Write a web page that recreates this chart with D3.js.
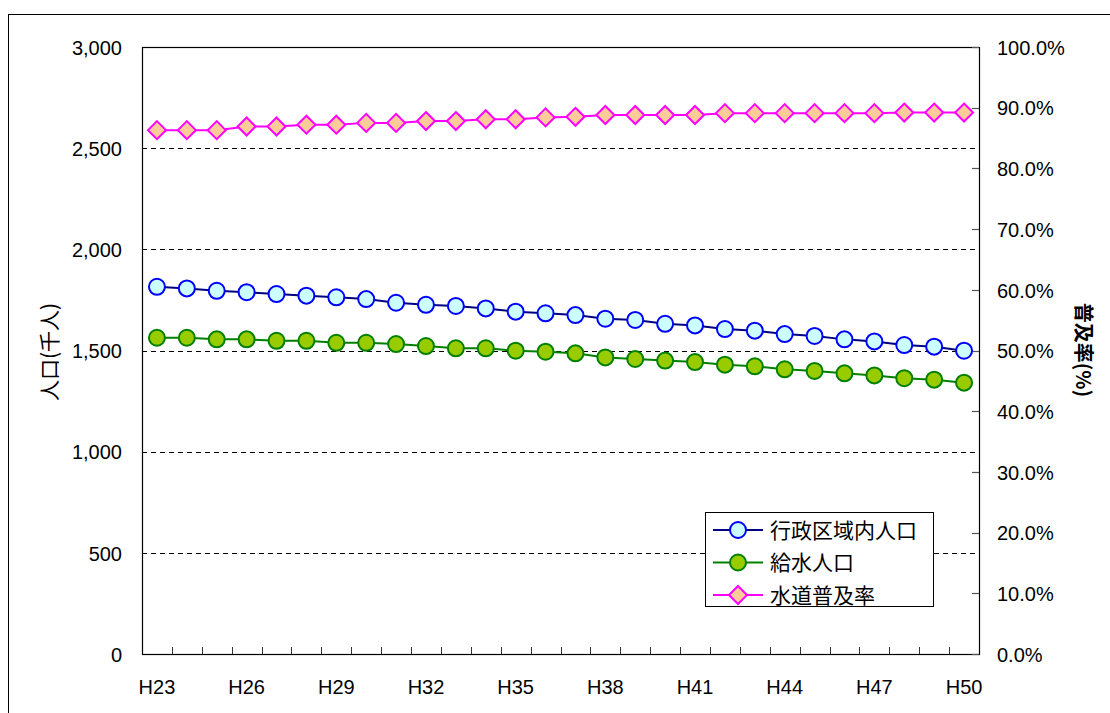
<!DOCTYPE html>
<html lang="ja">
<head>
<meta charset="utf-8">
<script src="https://cdn.jsdelivr.net/npm/d3@7"></script>
<style>
  html, body { margin: 0; padding: 0; background: #fff; }
  svg { display: block; }
  text { font-family: "Noto Sans CJK JP", "Noto Sans", sans-serif; fill: #000; }
  text.num { font-family: "Liberation Sans", Arial, sans-serif; }
</style>
</head>
<body>
<svg id="chart" width="1110" height="713"></svg>
<script>
// 年度（平成）
const years = ["H23","H24","H25","H26","H27","H28","H29","H30","H31","H32","H33","H34","H35","H36",
               "H37","H38","H39","H40","H41","H42","H43","H44","H45","H46","H47","H48","H49","H50"];
const tickYears = ["H23","H26","H29","H32","H35","H38","H41","H44","H47","H50"];

// 行政区域内人口（千人）
const adminPop = [1815,1807,1795,1788,1779,1771,1763,1754,1736,1726,1720,1708,1692,1684,
                  1675,1657,1651,1632,1624,1606,1598,1581,1572,1555,1545,1527,1519,1499];
// 給水人口（千人）
const servedPop = [1563,1563,1555,1555,1548,1548,1538,1538,1532,1522,1511,1511,1499,1494,
                   1486,1466,1458,1450,1443,1430,1422,1407,1399,1387,1377,1363,1356,1341];
// 水道普及率（%）
const coverage = [86.3,86.3,86.3,86.9,86.9,87.2,87.2,87.5,87.5,87.8,87.8,88.1,88.1,88.4,
                  88.5,88.8,88.8,88.8,88.8,89.1,89.1,89.1,89.1,89.1,89.1,89.2,89.2,89.2];

const popTicks = [0,500,1000,1500,2000,2500,3000];
const pctTicks = [0,10,20,30,40,50,60,70,80,90,100];

const svg = d3.select("#chart");
const plot = { left: 142, right: 979, top: 47, bottom: 654 };

// outer frame
svg.append("rect")
  .attr("x", 8.5).attr("y", 14.5).attr("width", 1200).attr("height", 800)
  .attr("fill", "none").attr("stroke", "#000").attr("stroke-width", 1);

const x = d3.scaleBand().domain(years).range([plot.left, plot.right]).padding(0);
const yL = d3.scaleLinear().domain([0, 3000]).range([plot.bottom, plot.top]);
const yR = d3.scaleLinear().domain([0, 100]).range([plot.bottom, plot.top]);
const cx = d => x(d) + x.bandwidth() / 2;

// gridlines
svg.append("g").selectAll("line")
  .data(popTicks.filter(v => v > 0 && v < 3000))
  .join("line")
  .attr("x1", plot.left).attr("x2", plot.right)
  .attr("y1", d => Math.round(yL(d)) + 0.5).attr("y2", d => Math.round(yL(d)) + 0.5)
  .attr("stroke", "#000").attr("stroke-width", 1).attr("stroke-dasharray", "5,4");

// plot frame
svg.append("rect")
  .attr("x", plot.left + 0.5).attr("y", plot.top + 0.5)
  .attr("width", plot.right - plot.left).attr("height", plot.bottom - plot.top)
  .attr("fill", "none").attr("stroke", "#000").attr("stroke-width", 1.2);

// left axis
const axisL = svg.append("g").attr("transform", `translate(${plot.left},0)`)
  .call(d3.axisLeft(yL).tickValues(popTicks).tickSize(0).tickPadding(20)
        .tickFormat(d3.format(",")));
axisL.select(".domain").remove();
axisL.selectAll("text").attr("class", "num").attr("font-size", 20).attr("dy", "0.36em").attr("x", -20);

// right axis
const axisR = svg.append("g").attr("transform", `translate(${plot.right},0)`)
  .call(d3.axisRight(yR).tickValues(pctTicks).tickSize(0).tickPadding(18)
        .tickFormat(d => d.toFixed(1) + "%"));
axisR.select(".domain").remove();
axisR.selectAll("text").attr("class", "num").attr("font-size", 20).attr("dy", "0.36em");
// inner ticks on right axis
svg.append("g").selectAll("line").data(pctTicks).join("line")
  .attr("x1", plot.right - 7).attr("x2", plot.right)
  .attr("y1", d => Math.round(yR(d)) + 0.5).attr("y2", d => Math.round(yR(d)) + 0.5)
  .attr("stroke", "#555").attr("stroke-width", 1.2);

// bottom axis: inner ticks at category boundaries, labels every 3 years
svg.append("g").selectAll("line").data(years.slice(1)).join("line")
  .attr("x1", d => Math.round(x(d)) + 0.5).attr("x2", d => Math.round(x(d)) + 0.5)
  .attr("y1", plot.bottom - 7).attr("y2", plot.bottom)
  .attr("stroke", "#333").attr("stroke-width", 1);
svg.append("g").selectAll("text").data(tickYears).join("text")
  .attr("class", "num")
  .attr("x", d => cx(d)).attr("y", plot.bottom + 40)
  .attr("text-anchor", "middle").attr("font-size", 20).text(d => d);

// axis titles
svg.append("text")
  .attr("transform", "translate(50,352) rotate(-90)")
  .attr("dy", "0.35em")
  .attr("text-anchor", "middle").attr("font-size", 21).text("人口(千人)");
svg.append("text")
  .attr("transform", "translate(1083,350) rotate(90)")
  .attr("dy", "0.35em")
  .attr("text-anchor", "middle").attr("font-size", 20).attr("font-weight", "bold").text("普及率(%)");

// series
const series = [
  { name: "行政区域内人口", values: adminPop, y: yL, line: "#000080", stroke: "#0000FF", fill: "#CCFFFF", shape: "circle" },
  { name: "給水人口", values: servedPop, y: yL, line: "#008000", stroke: "#008000", fill: "#99CC00", shape: "circle" },
  { name: "水道普及率", values: coverage, y: yR, line: "#FF00FF", stroke: "#FF00FF", fill: "#FFCC99", shape: "diamond" }
];

function drawMarker(g, s, px, py) {
  if (s.shape === "circle") {
    g.append("circle").attr("cx", px).attr("cy", py).attr("r", 8)
      .attr("fill", s.fill).attr("stroke", s.stroke).attr("stroke-width", 2);
  } else {
    const r = 9;
    g.append("path")
      .attr("d", `M${px},${py - r}L${px + r},${py}L${px},${py + r}L${px - r},${py}Z`)
      .attr("fill", s.fill).attr("stroke", s.stroke).attr("stroke-width", 2);
  }
}

series.forEach(s => {
  const g = svg.append("g");
  const pts = years.map((yr, i) => [cx(yr), s.y(s.values[i])]);
  g.append("path").attr("d", d3.line()(pts))
    .attr("fill", "none").attr("stroke", s.line).attr("stroke-width", 2);
  pts.forEach(p => drawMarker(g, s, p[0], p[1]));
});

// legend
const lg = svg.append("g");
lg.append("rect").attr("x", 705.5).attr("y", 512.5).attr("width", 228).attr("height", 94)
  .attr("fill", "#fff").attr("stroke", "#000").attr("stroke-width", 1);
series.forEach((s, i) => {
  const ly = 530 + i * 32.5;
  lg.append("line").attr("x1", 713).attr("x2", 763).attr("y1", ly).attr("y2", ly)
    .attr("stroke", s.line).attr("stroke-width", 2);
  drawMarker(lg, s, 738, ly);
  lg.append("text").attr("x", 770).attr("y", ly).attr("dy", "0.36em")
    .attr("font-size", 21).text(s.name);
});
</script>
</body>
</html>
